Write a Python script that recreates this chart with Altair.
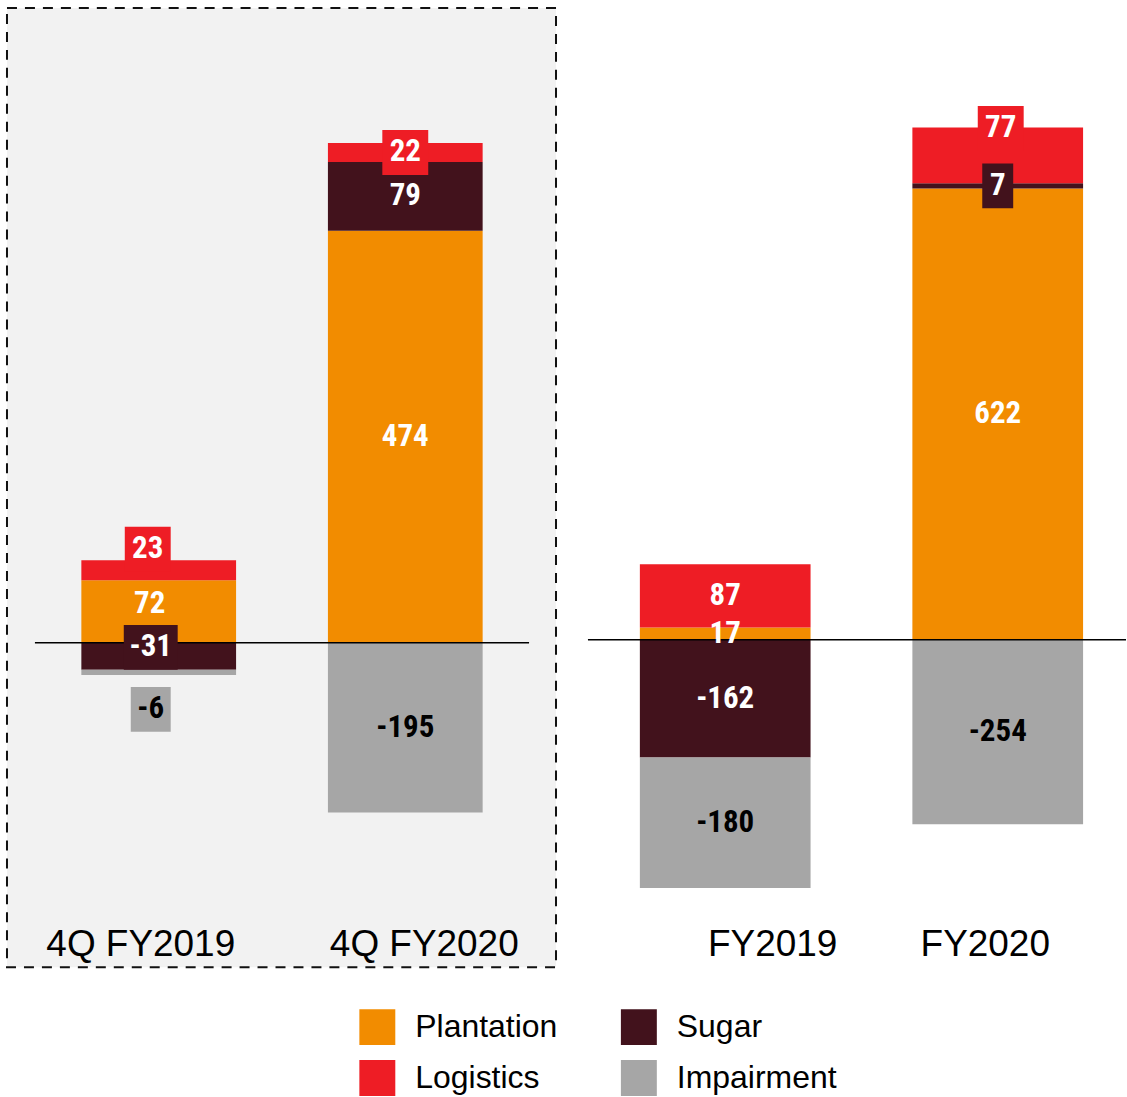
import altair as alt
import pandas as pd

# ---------------- data ----------------
periods_q = ["4Q FY2019", "4Q FY2020"]
periods_y = ["FY2019", "FY2020"]
stack_order = ["Plantation", "Sugar", "Logistics", "Impairment"]
legend_order = ["Plantation", "Logistics", "Sugar", "Impairment"]
series_colors = {"Plantation": "#F28C00", "Sugar": "#42121C",
                 "Logistics": "#EE1D25", "Impairment": "#A6A6A6"}

plantation = [72, 474, 17, 622]
sugar = [-31, 79, -162, 7]
logistics = [23, 22, 87, 77]
impairment = [-6, -195, -180, -254]

periods = periods_q + periods_y
values = {"Plantation": plantation, "Sugar": sugar,
          "Logistics": logistics, "Impairment": impairment}

# label styling: (period, series) -> (dx px, dy px, box width px)
label_nudge = {
    ("4Q FY2019", "Logistics"): (-11, -21, 46),
    ("4Q FY2019", "Plantation"): (-9, -8, 0),
    ("4Q FY2019", "Sugar"): (-8, -9, 54),
    ("4Q FY2019", "Impairment"): (-8, 37, 40),
    ("4Q FY2020", "Logistics"): (0, 0, 46),
    ("FY2020", "Logistics"): (3, -27, 46),
    ("FY2020", "Sugar"): (0, 0, 31),
}
BOX_H = 45

# panel layout settings
panels = {
    "q": dict(periods=periods_q, width=550, height=961, domain=[-373.1, 730.2],
              centers=[152, 399], bar=155, rule=[28, 523],
              cat_dx=[-18, 19]),
    "y": dict(periods=periods_y, width=539, height=961, domain=[-451.2, 870.7],
              centers=[137.5, 410.5], bar=171, rule=[0, 539],
              cat_dx=[47.5, -12.5]),
}

# ---------------- stacking ----------------
rows = []
for i, p in enumerate(periods):
    pos, neg = 0.0, 0.0
    for s in stack_order:
        v = values[s][i]
        if v >= 0:
            y0, y1 = pos, pos + v
            pos = y1
        else:
            y0, y1 = neg, neg + v
            neg = y1
        rows.append(dict(period=p, series=s, value=v, y0=y0, y1=y1))
df_all = pd.DataFrame(rows)

color_enc = alt.Color(
    "series:N",
    scale=alt.Scale(domain=legend_order,
                    range=[series_colors[s] for s in legend_order]),
    legend=alt.Legend(
        title=None, orient="none", legendX=353, legendY=1003, columns=2,
        symbolType="square", symbolSize=36 * 36, symbolStrokeWidth=0,
        symbolOpacity=1, padding=0,
        labelFont="Liberation Sans", labelFontSize=32, labelColor="black",
        labelOffset=20, columnPadding=63, rowPadding=15, labelLimit=400,
    ),
)

LABEL_FONT = "Liberation Sans Narrow, Roboto Condensed, DejaVu Sans Condensed, Arial Narrow, sans-serif"


def build_panel(key):
    cfg = panels[key]
    pset = cfg["periods"]
    df = df_all[df_all["period"].isin(pset)].copy()
    d0, d1 = cfg["domain"]
    ppu = cfg["height"] / (d1 - d0)

    lab = []
    for _, r in df.iterrows():
        dx, dy, bw = label_nudge.get((r["period"], r["series"]), (0, 0, 0))
        mid = (r["y0"] + r["y1"]) / 2
        ly = mid - dy / ppu
        fill_text = "black" if r["series"] == "Impairment" else "white"
        box_color = series_colors[r["series"]]
        hh = BOX_H / bw if bw else 1
        lab.append(dict(period=r["period"], label=str(int(r["value"])), ly=ly,
                        dx=dx, tcolor=fill_text, bw=bw, bsize=bw * bw,
                        bfill=box_color,
                        path=f"M-1,-{hh:.4f}L1,-{hh:.4f}L1,{hh:.4f}L-1,{hh:.4f}Z"))
    ldf = pd.DataFrame(lab)
    boxes = ldf[ldf["bw"] > 0]

    xs = alt.X("period:N", sort=pset, axis=None,
               scale=alt.Scale(type="point", range=cfg["centers"], padding=0))
    ys = alt.Y("y0:Q", axis=None,
               scale=alt.Scale(domain=cfg["domain"], nice=False, zero=False))

    bars = alt.Chart(df).mark_bar(size=cfg["bar"]).encode(
        x=xs, y=ys, y2="y1:Q", color=color_enc)

    rule = alt.Chart(pd.DataFrame({"z": [0]})).mark_rule(
        color="black", strokeWidth=1.5).encode(
        x=alt.value(cfg["rule"][0]), x2=alt.value(cfg["rule"][1]),
        y=alt.Y("z:Q", axis=None))

    box_layer = alt.Chart(boxes).mark_point(
        filled=True, opacity=1, strokeWidth=0).encode(
        x=xs,
        xOffset=alt.XOffset("dx:Q", scale=None),
        y=alt.Y("ly:Q", axis=None),
        shape=alt.Shape("path:N", scale=None),
        size=alt.Size("bsize:Q", scale=None),
        fill=alt.Fill("bfill:N", scale=None),
    )

    text_layer = alt.Chart(ldf).mark_text(
        font=LABEL_FONT, fontWeight="bold", fontSize=31, baseline="middle",
        align="center").encode(
        x=xs,
        xOffset=alt.XOffset("dx:Q", scale=None),
        y=alt.Y("ly:Q", axis=None),
        text="label:N",
        fill=alt.Fill("tcolor:N", scale=None),
    )

    cat_df = pd.DataFrame({"period": pset, "cdx": cfg["cat_dx"]})
    cats = alt.Chart(cat_df).mark_text(
        font="Liberation Sans", fontSize=37, color="black",
        baseline="middle", align="center").encode(
        x=xs,
        xOffset=alt.XOffset("cdx:Q", scale=None),
        y=alt.value(939),
        text="period:N",
    )

    return alt.layer(bars, rule, box_layer, text_layer, cats).properties(
        width=cfg["width"], height=cfg["height"])


left = build_panel("q").properties(
    view=alt.ViewBackground(fill="#F2F2F2", stroke="#111111",
                            strokeDash=[10, 8], strokeWidth=2))
right = build_panel("y").properties(
    view=alt.ViewBackground(fill="white", strokeWidth=0))

chart = alt.hconcat(left, right, spacing=30).properties(
    padding={"left": 6, "top": 6, "right": 0, "bottom": 0},
    background="white",
).configure_view(strokeWidth=0)

chart.save("out.html", embed_options={"renderer": "svg", "actions": False})
